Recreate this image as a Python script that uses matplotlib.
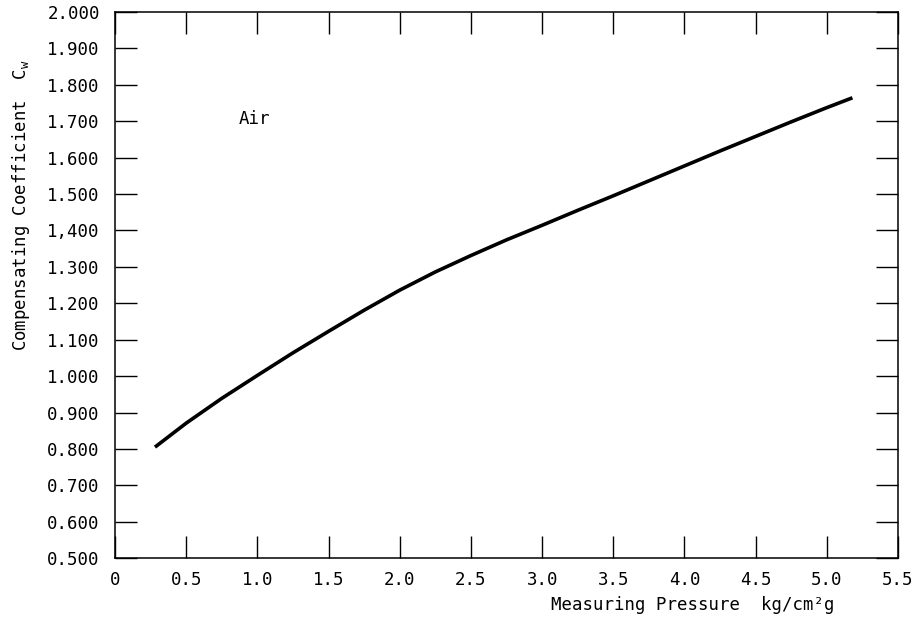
import matplotlib
matplotlib.use("Agg")
import matplotlib.pyplot as plt

# Compensating coefficient for air vs. measuring pressure (kg/cm²g)
pressure = [0.28, 0.5, 0.75, 1.0, 1.25, 1.5, 1.75, 2.0, 2.25, 2.5, 2.75, 3.0,
            3.25, 3.5, 3.75, 4.0, 4.25, 4.5, 4.75, 5.0, 5.18]
coeff = [0.805, 0.871, 0.939, 1.002, 1.064, 1.123, 1.181, 1.236, 1.286, 1.331, 1.374, 1.414,
         1.455, 1.495, 1.536, 1.577, 1.618, 1.658, 1.698, 1.737, 1.764]

x_ticks = [0, 0.5, 1.0, 1.5, 2.0, 2.5, 3.0, 3.5, 4.0, 4.5, 5.0, 5.5]
x_labels = ["0", "0.5", "1.0", "1.5", "2.0", "2.5", "3.0", "3.5", "4.0", "4.5", "5.0", "5.5"]
y_ticks = [0.5, 0.6, 0.7, 0.8, 0.9, 1.0, 1.1, 1.2, 1.3, 1.4, 1.5, 1.6, 1.7, 1.8, 1.9, 2.0]
y_labels = ["0.500", "0.600", "0.700", "0.800", "0.900", "1.000", "1.100", "1.200",
            "1.300", "1,400", "1.500", "1.600", "1.700", "1.800", "1.900", "2.000"]

plt.rcParams["font.family"] = ["DejaVu Sans Mono"]
FS = 12.5

fig = plt.figure(figsize=(9.21, 6.23), dpi=100)
ax = fig.add_axes([0.125, 0.104, 0.850, 0.877])

ax.plot(pressure, coeff, color="black", linewidth=2.6,
        solid_capstyle="butt", solid_joinstyle="round")

ax.set_xlim(0, 5.5)
ax.set_ylim(0.5, 2.0)
ax.set_xticks(x_ticks)
ax.set_xticklabels(x_labels, fontsize=FS)
ax.set_yticks(y_ticks)
ax.set_yticklabels(y_labels, fontsize=FS)

ax.tick_params(axis="both", direction="in", length=16, width=1.0, color="black",
               top=True, right=True)
ax.tick_params(axis="x", pad=9)
ax.tick_params(axis="y", pad=11)

for side in ax.spines.values():
    side.set_linewidth(1.1)
    side.set_color("black")

ax.text(0.87, 1.705, "Air", fontsize=FS, ha="left", va="center")

fig.text(0.752, 0.029, "Measuring Pressure  kg/cm\u00b2g", fontsize=FS,
         ha="center", va="center")
fig.text(0.023, 0.671, "Compensating Coefficient  C$_\\mathregular{w}$", fontsize=FS,
         ha="center", va="center", rotation=90)

fig.savefig("out.png", dpi=100, facecolor="white")
